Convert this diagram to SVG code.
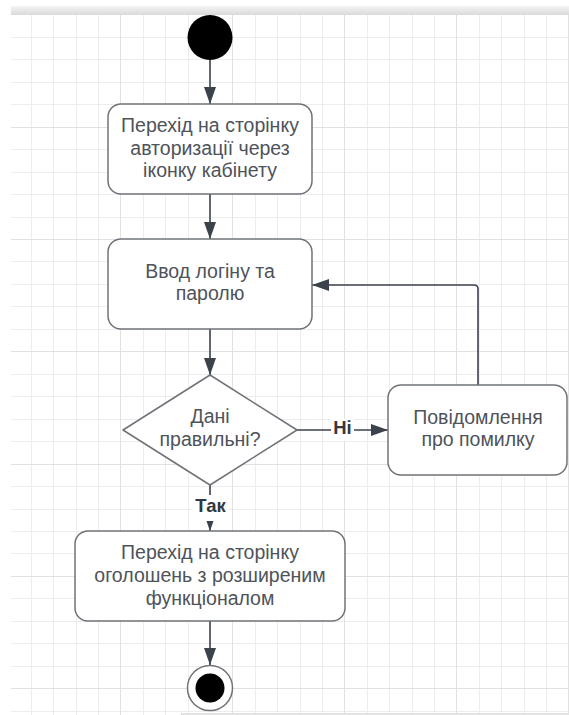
<svg xmlns="http://www.w3.org/2000/svg" width="569" height="715" viewBox="0 0 569 715">
  <style>
    .minor { stroke: #ededed; stroke-width: 1; fill: none; }
    .major { stroke: #e1e1e1; stroke-width: 1; fill: none; }
    .node { fill: #ffffff; stroke: #6f7378; stroke-width: 1.5; }
    .txt { font-family: "Liberation Sans", Arial, sans-serif; font-size: 19.5px; fill: #4e535a; text-anchor: middle; }
    .lbl { font-family: "Liberation Sans", Arial, sans-serif; font-size: 18.5px; font-weight: bold; fill: #33383e; text-anchor: middle; }
    .conn { stroke: #3b424c; stroke-width: 1.6; fill: none; }
  </style>
  <defs>
    <linearGradient id="bar" x1="0" y1="0" x2="0" y2="1">
      <stop offset="0" stop-color="#f4f4f4"/>
      <stop offset="1" stop-color="#dadada"/>
    </linearGradient>
    <marker id="arr" markerUnits="userSpaceOnUse" markerWidth="18" markerHeight="13" refX="17" refY="6" orient="auto">
      <path d="M0,0 L17,6 L0,12 Z" fill="#3b424c"/>
    </marker>
  </defs>

  <!-- background & grid -->
  <rect x="0" y="0" width="569" height="715" fill="#ffffff"/>
  <rect x="11" y="6" width="558" height="9" fill="url(#bar)"/>
  <g id="grid">
    <path class="minor" d="M31.5 15V715M53.5 15V715M76.5 15V715M98.5 15V715M143.5 15V715M165.5 15V715M188.5 15V715M210.5 15V715M255.5 15V715M277.5 15V715M300.5 15V715M322.5 15V715M367.5 15V715M389.5 15V715M412.5 15V715M434.5 15V715M479.5 15V715M501.5 15V715M524.5 15V715M546.5 15V715"/>
    <path class="minor" d="M11 37.5H569M11 59.5H569M11 82.5H569M11 104.5H569M11 149.5H569M11 172.5H569M11 194.5H569M11 217.5H569M11 261.5H569M11 284.5H569M11 306.5H569M11 329.5H569M11 374.5H569M11 396.5H569M11 419.5H569M11 441.5H569M11 486.5H569M11 509.5H569M11 531.5H569M11 553.5H569M11 598.5H569M11 621.5H569M11 643.5H569M11 666.5H569M11 711.5H569"/>
    <path class="major" d="M120.5 15V715M232.5 15V715M344.5 15V715M456.5 15V715M568.5 15V715M11 127.5H569M11 239.5H569M11 351.5H569M11 464.5H569M11 576.5H569M11 688.5H569"/>
    <rect x="181" y="713" width="388" height="2" fill="#e3e3e3"/>
  </g>

  <!-- connectors -->
  <g id="connectors">
    <path class="conn" d="M210 60V104" marker-end="url(#arr)"/>
    <path class="conn" d="M210 194V239" marker-end="url(#arr)"/>
    <path class="conn" d="M210 329V375" marker-end="url(#arr)"/>
    <path class="conn" d="M297 430H388" marker-end="url(#arr)"/>
    <path class="conn" d="M478 385V289Q478 285 474 285H312" marker-end="url(#arr)"/>
    <path class="conn" d="M210 485V531" marker-end="url(#arr)"/>
    <path class="conn" d="M210 621V665" marker-end="url(#arr)"/>
    <g id="label-no">
      <rect x="331" y="419" width="23" height="22" fill="#ffffff"/>
      <text class="lbl" x="342.5" y="434">Ні</text>
    </g>
    <g id="label-yes">
      <rect x="193" y="495" width="35" height="26" fill="#ffffff"/>
      <text class="lbl" x="210.5" y="512">Так</text>
    </g>
  </g>

  <!-- nodes -->
  <g id="start">
    <ellipse cx="210" cy="37.5" rx="22.5" ry="22.5" fill="#000000"/>
  </g>
  <g id="to-auth">
    <rect class="node" x="108" y="104" width="204" height="90" rx="13"/>
    <text class="txt" x="210" y="132">Перехід на сторінку</text>
    <text class="txt" x="210" y="154.5">авторизації через</text>
    <text class="txt" x="210" y="177">іконку кабінету</text>
  </g>
  <g id="enter-login">
    <rect class="node" x="108" y="239" width="204" height="90" rx="13"/>
    <text class="txt" x="210" y="277.5">Ввод логіну та</text>
    <text class="txt" x="210" y="300">паролю</text>
  </g>
  <g id="decision">
    <path class="node" d="M210 375L297 430L210 485L123 430Z" stroke-linejoin="round"/>
    <text class="txt" x="210" y="423">Дані</text>
    <text class="txt" x="210" y="445.5">правильні?</text>
  </g>
  <g id="error-msg">
    <rect class="node" x="388" y="385" width="179" height="90" rx="13"/>
    <text class="txt" x="478" y="423.5">Повідомлення</text>
    <text class="txt" x="478" y="446">про помилку</text>
  </g>
  <g id="to-ads">
    <rect class="node" x="75" y="531" width="270" height="90" rx="13"/>
    <text class="txt" x="210" y="558.5">Перехід на сторінку</text>
    <text class="txt" x="210" y="581.5">оголошень з розширеним</text>
    <text class="txt" x="210" y="604.5">функціоналом</text>
  </g>
  <g id="end">
    <circle cx="210" cy="688" r="22.5" fill="#ffffff" stroke="#6f7378" stroke-width="1.5"/>
    <circle cx="210" cy="688" r="14.5" fill="#000000"/>
  </g>
</svg>
